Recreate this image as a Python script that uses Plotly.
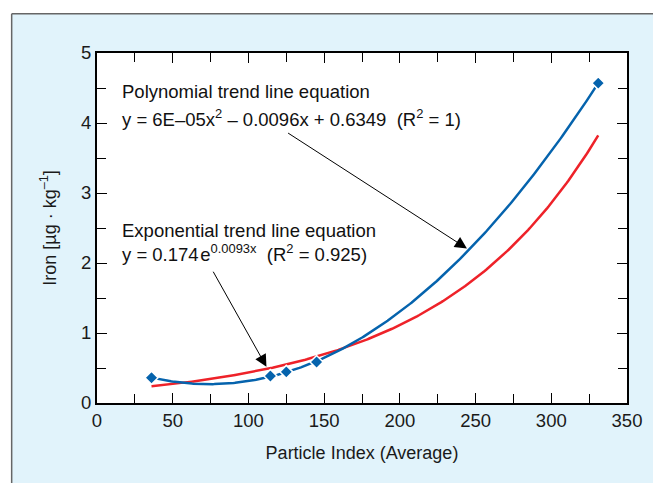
import numpy as np
import plotly.graph_objects as go

# Data points (Particle Index average vs Iron)
particle_index = [36, 114.5, 125, 145, 331]
iron = [0.36, 0.385, 0.445, 0.585, 4.57]

x_ticks = [0, 50, 100, 150, 200, 250, 300, 350]
y_ticks = [0, 1, 2, 3, 4, 5]

xp = np.array(particle_index, dtype=float)
yp = np.array(iron, dtype=float)

# Trend lines fitted from the data (as a spreadsheet would)
poly = np.polyfit(xp, yp, 2)
b, ln_a = np.polyfit(xp, np.log(yp), 1)
xs = np.linspace(xp.min(), xp.max(), 300)
y_poly = np.polyval(poly, xs)
y_exp = np.exp(ln_a) * np.exp(b * xs)

BLUE = "#0563ad"
RED = "#ee2229"
FONT = "Liberation Sans, Arial, sans-serif"

fig = go.Figure()
fig.add_trace(go.Scatter(x=xs, y=y_exp, mode="lines",
                         line=dict(color=RED, width=2.5), hoverinfo="skip"))
fig.add_trace(go.Scatter(x=xs, y=y_poly, mode="lines",
                         line=dict(color=BLUE, width=2.5), hoverinfo="skip"))
fig.add_trace(go.Scatter(x=particle_index, y=iron, mode="markers",
                         marker=dict(symbol="diamond", size=10, color=BLUE,
                                     line=dict(color="white", width=1.5))))

axis_common = dict(
    showline=True, linecolor="black", linewidth=1.8, mirror="allticks",
    ticks="inside", ticklen=10, tickwidth=1, tickcolor="black",
    showgrid=False, zeroline=False,
    tickfont=dict(family=FONT, size=18.5, color="#1a1a1a"),
)

fig.update_xaxes(range=[0, 350], tickvals=x_ticks, **axis_common,
                 minor=dict(dtick=25, ticks="inside", ticklen=9, tickcolor="black", tickwidth=1),
                 title=dict(text="Particle Index (Average)", font=dict(family=FONT, size=18, color="#1a1a1a"),
                            standoff=16))
fig.update_yaxes(range=[0, 5], tickvals=y_ticks, **axis_common,
                 minor=dict(dtick=0.5, ticks="inside", ticklen=9, tickcolor="black", tickwidth=1),
                 title=dict(text="Iron [µg · kg<sup>–1</sup>]", font=dict(family=FONT, size=18, color="#1a1a1a"),
                            standoff=20))

ann_font = dict(family=FONT, size=18.5, color="#111")
texts = [
    (15.5, 4.45, "Polynomial trend line equation"),
    (15.5, 4.07, "y = 6E–05x<sup>2</sup> – 0.0096x + 0.6349 \u00a0(R<sup>2</sup> = 1)"),
    (15.5, 2.46, "Exponential trend line equation"),
    (15.5, 2.15, "y = 0.174\u200ae<sup>0.0093x</sup> \u00a0(R<sup>2</sup> = 0.925)"),
]
annotations = [dict(x=x, y=y, xref="x", yref="y", text=t, showarrow=False,
                    xanchor="left", yanchor="middle", font=ann_font) for x, y, t in texts]

arrows = [((125.2, 3.87), (244.3, 2.207)), ((76.2, 1.897), (111.9, 0.518))]
for (ax, ay), (x, y) in arrows:
    annotations.append(dict(x=x, y=y, ax=ax, ay=ay, xref="x", yref="y", axref="x", ayref="y",
                            text="", showarrow=True, arrowhead=2, arrowsize=2.4, arrowwidth=1,
                            arrowcolor="black", standoff=0))

shapes = [
    # white strips outside the light-blue panel
    dict(type="rect", xref="paper", yref="paper", x0=-0.3, x1=1.2, y0=1.112, y1=1.3,
         fillcolor="white", line=dict(width=0), layer="below"),
    dict(type="rect", xref="paper", yref="paper", x0=-0.3, x1=-0.161, y0=-0.3, y1=1.3,
         fillcolor="white", line=dict(width=0), layer="below"),
    # panel border lines
    dict(type="line", xref="paper", yref="paper", x0=-0.161, x1=1.2, y0=1.112, y1=1.112,
         line=dict(color="#666", width=1.5), layer="below"),
    dict(type="line", xref="paper", yref="paper", x0=-0.161, x1=-0.161, y0=-0.3, y1=1.112,
         line=dict(color="#666", width=1.5), layer="below"),
]

fig.update_layout(
    width=653, height=483,
    margin=dict(l=97, r=26, t=53, b=80),
    paper_bgcolor="#e1f3fb", plot_bgcolor="white",
    showlegend=False,
    annotations=annotations, shapes=shapes,
    font=dict(family=FONT),
)

fig.write_html("out.html")
